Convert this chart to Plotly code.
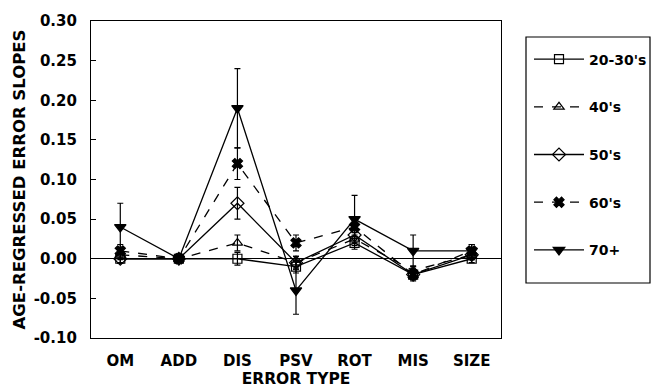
import plotly.graph_objects as go

categories = ["OM", "ADD", "DIS", "PSV", "ROT", "MIS", "SIZE"]
series_names = ["20-30's", "40's", "50's", "60's", "70+"]

v_2030 = [0.000, 0.000, 0.000, -0.010, 0.020, -0.020, 0.000]
e_2030 = [0.005, 0.003, 0.008, 0.008, 0.008, 0.006, 0.005]
v_40 = [0.005, 0.000, 0.020, -0.005, 0.025, -0.015, 0.005]
e_40 = [0.006, 0.003, 0.010, 0.008, 0.008, 0.006, 0.006]
v_50 = [0.000, 0.000, 0.070, -0.005, 0.030, -0.020, 0.005]
e_50 = [0.006, 0.003, 0.020, 0.008, 0.010, 0.006, 0.006]
v_60 = [0.010, 0.000, 0.120, 0.020, 0.040, -0.020, 0.010]
e_60 = [0.008, 0.003, 0.020, 0.010, 0.010, 0.008, 0.008]
v_70 = [0.040, 0.000, 0.190, -0.040, 0.050, 0.010, 0.010]
e_70 = [0.030, 0.003, 0.050, 0.030, 0.030, 0.020, 0.008]

y_ticks = [-0.10, -0.05, 0.00, 0.05, 0.10, 0.15, 0.20, 0.25, 0.30]

styles = [
    dict(symbol="square-open", dash="solid", size=9),
    dict(symbol="triangle-up-open", dash="dash", size=9),
    dict(symbol="diamond-open", dash="solid", size=10),
    dict(symbol="x", dash="dash", size=9),
    dict(symbol="triangle-down", dash="solid", size=10),
]
values = [v_2030, v_40, v_50, v_60, v_70]
errors = [e_2030, e_40, e_50, e_60, e_70]

fig = go.Figure()
for name, vals, errs, st in zip(series_names, values, errors, styles):
    fig.add_trace(go.Scatter(
        x=categories, y=vals, name=name, mode="lines+markers",
        legendgroup=name,
        line=dict(color="black", width=1.3, dash=st["dash"]),
        marker=dict(symbol=st["symbol"], size=st["size"], color="black",
                    line=dict(color="black", width=1.2)),
        error_y=dict(type="data", array=errs, visible=True, color="black",
                     thickness=1.2, width=3),
    ))

FAM = "DejaVu Sans, Arial, sans-serif"
tick_font = dict(family=FAM, size=15, color="black", weight="bold")
legend_font = dict(family=FAM, size=14, color="black", weight="bold")
xtitle_font = dict(family=FAM, size=15.5, color="black", weight="bold")
ytitle_font = dict(family=FAM, size=16.5, color="black", weight="bold")

fig.update_layout(
    width=659, height=388,
    margin=dict(l=91, r=158, t=21, b=50, autoexpand=False),
    paper_bgcolor="white", plot_bgcolor="white",
    font=tick_font,
    showlegend=True,
    legend=dict(x=(529 - 91) / 410, y=0.929, xanchor="left", yanchor="top",
                borderwidth=0, bgcolor="rgba(0,0,0,0)",
                tracegroupgap=26.5, font=legend_font, itemwidth=50),
    xaxis=dict(
        type="category", range=[-0.5, 6.5], showgrid=False, automargin=False,
        showline=True, linecolor="black", linewidth=1.2, mirror=True,
        ticks="", tickfont=tick_font, ticklabelstandoff=9,
        title=dict(text="ERROR TYPE", font=xtitle_font, standoff=10),
    ),
    yaxis=dict(
        range=[-0.1, 0.3], tickvals=y_ticks, automargin=False,
        ticktext=[f"{t:.2f}" for t in y_ticks],
        showgrid=False, zeroline=True, zerolinecolor="black", zerolinewidth=1.3,
        showline=True, linecolor="black", linewidth=1.2, mirror=True,
        ticks="inside", ticklen=5, tickcolor="black", tickfont=tick_font,
        ticklabelstandoff=10,
        title=dict(text="AGE-REGRESSED ERROR SLOPES", font=ytitle_font, standoff=3),
    ),
    shapes=[dict(type="rect", xref="paper", yref="paper",
                 x0=(526 - 91) / 410, x1=(650 - 91) / 410,
                 y0=(338 - 283) / 317, y1=(338 - 37) / 317,
                 line=dict(color="black", width=1.2), fillcolor="rgba(0,0,0,0)")],
)

fig.write_html("out.html")
